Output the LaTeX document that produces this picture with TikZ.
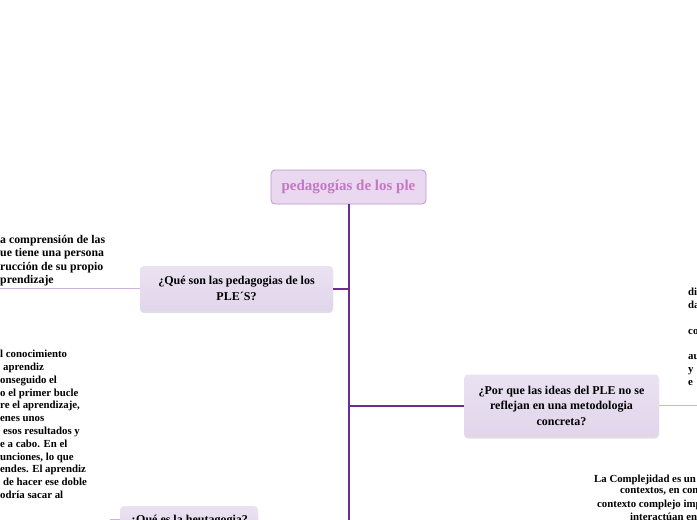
\documentclass[tikz,border=0pt]{standalone}
\usepackage{fontspec}
\setmainfont{Liberation Serif}
\usetikzlibrary{shadows}
\definecolor{trunk}{RGB}{104,46,150}
\definecolor{lightline}{RGB}{205,180,222}
\definecolor{subfill}{RGB}{225,213,235}
\definecolor{subtop}{RGB}{234,226,241}
\definecolor{rootfill}{RGB}{233,216,239}
\definecolor{rootdraw}{RGB}{190,150,208}
\definecolor{roottext}{RGB}{196,120,196}
\tikzset{
  rootbox/.style={draw=rootdraw, line width=0.8pt, fill=rootfill, rounded corners=4pt,
    font=\fontsize{15}{17}\selectfont\bfseries, text=roottext, inner sep=0pt},
  subbox/.style={top color=subtop, bottom color=subfill, draw=none, rounded corners=4pt,
    font=\fontsize{12}{15.5}\selectfont\bfseries, align=center, inner sep=0pt,
    drop shadow={opacity=0.25, shadow xshift=0pt, shadow yshift=-2pt}},
  trunkline/.style={draw=trunk, line width=2pt},
  lightlinestyle/.style={draw=lightline, line width=1pt},
  fragtext/.style={font=\fontsize{10.8}{12.8}\selectfont\bfseries, align=left, inner sep=0pt},
  bigfrag/.style={font=\fontsize{11.8}{13.4}\selectfont\bfseries, align=left, inner sep=0pt},
}
\begin{document}
\begin{tikzpicture}[x=1pt,y=-1pt]
\useasboundingbox (0,0) rectangle (697,520);
\clip (0,0) rectangle (697,520);
\fill[white] (0,0) rectangle (697,520);

\node[rootbox, minimum width=155pt, minimum height=34pt] (root) at (348.5,187) {pedagogías de los ple};
\node[subbox, minimum width=193pt, minimum height=45pt] (q1) at (236.5,288.5) {¿Qué son las pedagogias de los\\[0.5pt]PLE´S?};
\node[subbox, minimum width=195pt, minimum height=62pt] (q2) at (561.5,405.5) {¿Por que las ideas del PLE no se\\reflejan en una metodologia\\concreta?};
\node[subbox, minimum width=138pt, minimum height=30pt] (q3) at (189,521) {¿Qué es la heutagogia?};

\draw[trunkline] (root.south) |- (q3.east);
\draw[trunkline] (root.south |- q1.east) -- (q1.east);
\draw[trunkline] (root.south |- q2.west) -- (q2.west);

\coordinate (l1) at (0,288.5);
\coordinate (r2) at (697,405.5);
\coordinate (l3) at (110,519);
\draw[lightlinestyle] (q1.west) -- (l1);
\draw[lightlinestyle] (q2.east) -- (r2);
\draw[lightlinestyle] (q3.west |- l3) -- (l3);

% text fragments
\node[bigfrag, anchor=north west] (t1) at (0,235) {a comprensión de las\\ue tiene una persona\\rucción de su propio\\prendizaje};
\node[fragtext, anchor=north west] (t3) at (0,350) {l conocimiento\\\hspace*{3pt}aprendiz\\onseguido el\\o el primer bucle\\re el aprendizaje,\\enes unos\\\hspace*{3pt}esos resultados y\\e a cabo. En el\\unciones, lo que\\endes. El aprendiz\\\hspace*{3pt}de hacer ese doble\\odría sacar al};
\node[fragtext, anchor=north west] (t2) at (688,288) {di\\da\\\mbox{}\\co\\\mbox{}\\au\\y\\e};
\node[fragtext, anchor=north west] (b1) at (594,475) {La Complejidad es un};
\node[fragtext, anchor=north west] (b2) at (620,487.5) {contextos, en con};
\node[fragtext, anchor=north west] (b3) at (597,500) {contexto complejo imp};
\node[fragtext, anchor=north west] (b4) at (630,512.5) {interactúan en};
\end{tikzpicture}
\end{document}
